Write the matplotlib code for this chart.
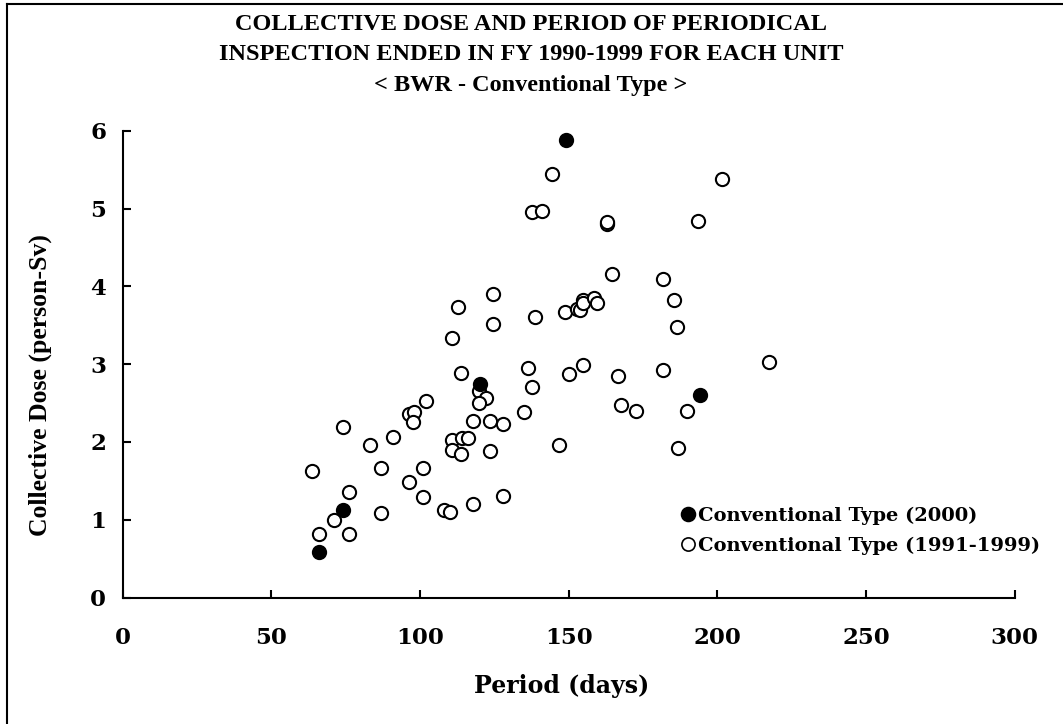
import matplotlib
matplotlib.use("Agg")
import matplotlib.pyplot as plt
from matplotlib.lines import Line2D

# ---- data ----
period_2000 = [149, 120, 74, 66, 194]
dose_2000 = [5.88, 2.75, 1.12, 0.58, 2.60]

period_9199 = [144.5, 137.6, 140.9, 162.9, 163.0, 164.5, 181.8, 124.7, 112.9, 124.7,
               110.7, 138.7, 148.9, 152.7, 153.8, 154.9, 154.7, 158.6, 159.6, 201.7,
               193.5, 185.5, 186.5, 217.3, 181.8, 166.7, 167.7, 172.7, 189.9, 186.7,
               113.8, 136.4, 154.7, 150.0, 137.6, 119.8, 122.1, 119.7, 102.0, 96.3,
               97.9, 97.8, 134.9, 117.7, 123.5, 127.9, 74.1, 90.8, 83.2, 110.8,
               114.0, 116.1, 110.7, 113.9, 123.5, 146.7, 63.8, 87.0, 100.9, 96.2,
               76.1, 100.9, 127.9, 117.7, 108.0, 110.2, 87.0, 71.0, 66.1, 76.1]
dose_9199 = [5.44, 4.95, 4.97, 4.80, 4.83, 4.16, 4.10, 3.90, 3.73, 3.51,
             3.34, 3.61, 3.67, 3.71, 3.69, 3.82, 3.79, 3.85, 3.79, 5.38,
             4.84, 3.83, 3.48, 3.03, 2.93, 2.85, 2.47, 2.40, 2.40, 1.92,
             2.89, 2.95, 2.99, 2.87, 2.71, 2.66, 2.56, 2.50, 2.52, 2.36,
             2.38, 2.25, 2.38, 2.27, 2.27, 2.23, 2.19, 2.06, 1.96, 2.03,
             2.05, 2.05, 1.90, 1.84, 1.88, 1.96, 1.63, 1.66, 1.66, 1.49,
             1.35, 1.29, 1.30, 1.20, 1.12, 1.10, 1.08, 1.00, 0.81, 0.81]

x_ticks = [0, 50, 100, 150, 200, 250, 300]
y_ticks = [0, 1, 2, 3, 4, 5, 6]
title_lines = ["COLLECTIVE DOSE AND PERIOD OF PERIODICAL",
               "INSPECTION ENDED IN FY 1990-1999 FOR EACH UNIT",
               "< BWR - Conventional Type >"]
label_2000 = "Conventional Type (2000)"
label_9199 = "Conventional Type (1991-1999)"

W, H = 1063, 724
fig = plt.figure(figsize=(W / 100, H / 100), dpi=100)
ax = fig.add_axes([122.7 / W, 1 - 597.5 / H, (1014.7 - 122.7) / W, (597.5 - 130.7) / H])

ax.plot(period_9199, dose_9199, linestyle="none", marker="o", markersize=9.5,
        markerfacecolor="white", markeredgecolor="black", markeredgewidth=1.5,
        label=label_9199, zorder=3)
ax.plot(period_2000, dose_2000, linestyle="none", marker="o", markersize=9.5,
        markerfacecolor="black", markeredgecolor="black", markeredgewidth=1.5,
        label=label_2000, zorder=4)

ax.set_xlim(0, 300)
ax.set_ylim(0, 6)
ax.set_xticks(x_ticks)
ax.set_yticks(y_ticks)
for s in ["top", "right"]:
    ax.spines[s].set_visible(False)
for s in ["left", "bottom"]:
    ax.spines[s].set_linewidth(1.5)
ax.tick_params(axis="both", direction="in", length=6, width=1.5)
ax.tick_params(axis="x", pad=21)
ax.tick_params(axis="y", pad=12)
for lab in ax.get_xticklabels() + ax.get_yticklabels():
    lab.set_fontfamily("DejaVu Serif")
    lab.set_fontweight("bold")
    lab.set_fontsize(16.5)

# titles
title_y = [24, 55, 85]
for t, yy in zip(title_lines, title_y):
    fig.text(531 / W, 1 - yy / H, t, ha="center", va="center",
             family="Liberation Serif", weight="bold", size=17.5)

fig.text(562 / W, 1 - 686 / H, "Period (days)", ha="center", va="center",
         family="DejaVu Serif", weight="bold", size=17)
fig.text(40 / W, 1 - 385 / H, "Collective Dose (person-Sv)", ha="center", va="center",
         rotation=90, family="Liberation Serif", weight="bold", size=18.5)

handles = [Line2D([], [], linestyle="none", marker="o", markersize=10,
                  markerfacecolor="black", markeredgecolor="black", markeredgewidth=1.2),
           Line2D([], [], linestyle="none", marker="o", markersize=9.5,
                  markerfacecolor="white", markeredgecolor="black", markeredgewidth=1.2)]
leg = fig.legend(handles, [label_2000, label_9199], loc="upper left",
                 bbox_to_anchor=(682 / W, 1 - 507 / H), frameon=False,
                 handlelength=0.6, handletextpad=0.2, labelspacing=0.6,
                 borderaxespad=0, borderpad=0,
                 prop=dict(family="DejaVu Serif", weight="bold", size=14))

# frame lines (top and left)
fig.add_artist(Line2D([7 / W, 7 / W], [0, 1 - 4 / H], transform=fig.transFigure,
                      color="black", linewidth=1.5))
fig.add_artist(Line2D([7 / W, 1], [1 - 4 / H, 1 - 4 / H], transform=fig.transFigure,
                      color="black", linewidth=1.5))

fig.savefig("out.png", dpi=100)
